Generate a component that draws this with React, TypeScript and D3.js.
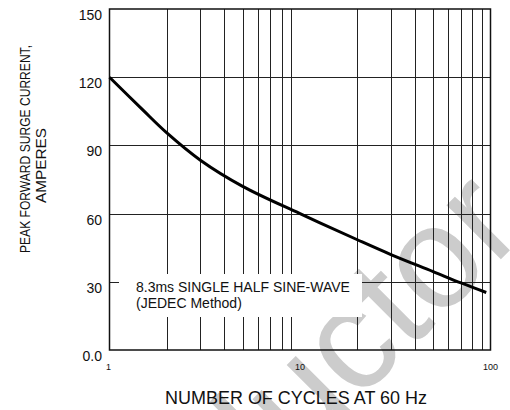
import React from 'react';
import * as d3 from 'd3';

// Surge current vs number of cycles
const cycles = [1, 1.5, 2, 3, 5, 10, 20, 30, 50, 70, 95];
const current = [120, 105.5, 95.5, 83.5, 72, 60, 48.5, 42, 34.5, 29.5, 25.3];

const yTicks = [0, 30, 60, 90, 120, 150];
const yTickLabels = ['0.0', '30', '60', '90', '120', '150'];
const xTicks = [1, 10, 100];
const xGrid = [2, 3, 4, 5, 6, 7, 8, 9, 20, 30, 40, 50, 60, 70, 80, 90];

const width = 510;
const height = 410;
const font = 'Liberation Sans, Arial, sans-serif';

const App: React.FC = () => {
  // Plot area
  const left = 109.5;
  const right = 490.5;
  const top = 9;
  const bottom = 350;

  const x = d3.scaleLog().domain([1, 100]).range([left, right]);
  const y = d3.scaleLinear().domain([0, 150]).range([bottom, top]);

  const line = d3.line<number>()
    .x((_, i) => x(cycles[i]))
    .y(d => y(d))
    .curve(d3.curveCatmullRom.alpha(0.5));

  const gridColor = '#222';

  return (
    <svg width={width} height={height} style={{ position: 'absolute', left: 0, top: 0, background: '#fff' }}>
      {/* watermark */}
      <text
        x={243}
        y={517}
        transform="rotate(-45 243 517)"
        fontFamily={font}
        fontSize={145}
        fill="#cccccc"
      >
        ductor
      </text>

      {/* vertical grid */}
      {xGrid.map(v => (
        <line key={'vx' + v} x1={Math.round(x(v)) + 0.5} x2={Math.round(x(v)) + 0.5} y1={top} y2={bottom}
          stroke={gridColor} strokeWidth={1} />
      ))}
      {/* horizontal grid */}
      {yTicks.slice(1, -1).map(v => (
        <line key={'hy' + v} x1={left} x2={right} y1={Math.round(y(v)) + 0.5} y2={Math.round(y(v)) + 0.5}
          stroke={gridColor} strokeWidth={1} />
      ))}

      {/* label box */}
      <rect x={119} y={274} width={243} height={43} fill="#fff" />
      <text x={136} y={292} fontFamily={font} fontSize={14} fill="#111">8.3ms SINGLE HALF SINE-WAVE</text>
      <text x={136} y={308} fontFamily={font} fontSize={14} fill="#111">(JEDEC Method)</text>

      {/* frame */}
      <rect x={left} y={top} width={right - left} height={bottom - top} fill="none" stroke="#111" strokeWidth={1.5} />

      {/* curve */}
      <path d={line(current) || ''} fill="none" stroke="#000" strokeWidth={3} />

      {/* y tick labels */}
      {yTicks.map((v, i) => (
        <text key={'yt' + v} x={102} y={y(v) + 11} textAnchor="end" fontFamily={font} fontSize={14} fill="#111">
          {yTickLabels[i]}
        </text>
      ))}
      {/* x tick labels */}
      {xTicks.map(v => (
        <text key={'xt' + v} x={x(v) - (v === 1 ? 1 : 0)} y={370} textAnchor="middle" fontFamily={font} fontSize={9} fill="#111">
          {v}
        </text>
      ))}

      {/* axis titles */}
      <text x={296} y={404} textAnchor="middle" fontFamily={font} fontSize={18} fill="#111"
        textLength={262} lengthAdjust="spacingAndGlyphs">
        NUMBER OF CYCLES AT 60 Hz
      </text>
      <text transform="translate(30,149) rotate(-90)" textAnchor="middle" fontFamily={font} fontSize={14} fill="#111"
        textLength={208} lengthAdjust="spacingAndGlyphs">
        PEAK  FORWARD SURGE CURRENT,
      </text>
      <text transform="translate(46,165.5) rotate(-90)" textAnchor="middle" fontFamily={font} fontSize={14} fill="#111"
        textLength={75} lengthAdjust="spacingAndGlyphs">
        AMPERES
      </text>
    </svg>
  );
};

export default App;
